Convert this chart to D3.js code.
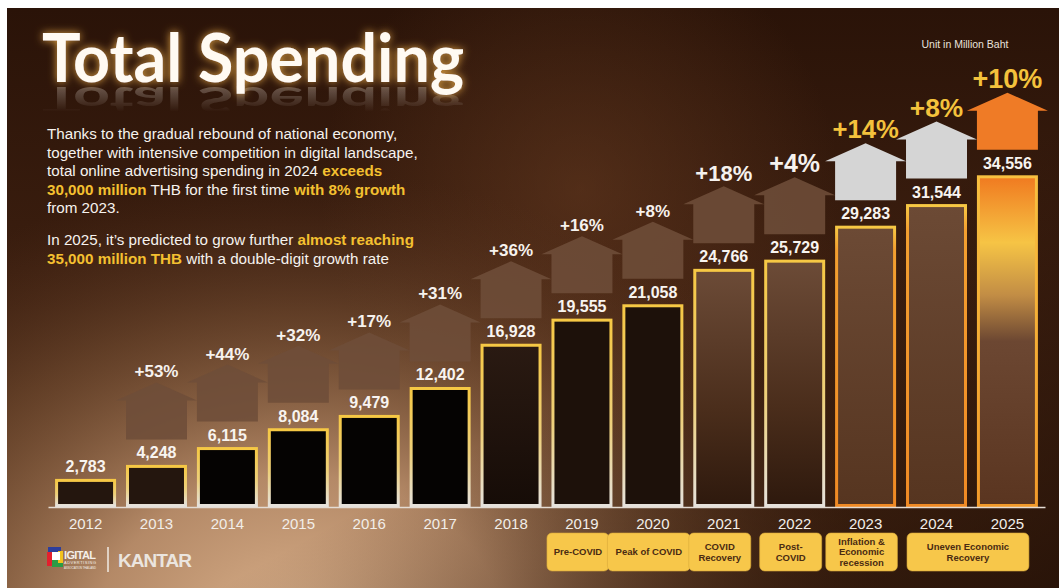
<!DOCTYPE html>
<html>
<head>
<meta charset="utf-8">
<script src="https://cdn.jsdelivr.net/npm/d3@7"></script>
<style>
  html, body { margin: 0; padding: 0; background: #fff; }
  svg { display: block; font-family: "Liberation Sans", Arial, sans-serif; }
</style>
</head>
<body>
<svg id="chart"></svg>
<script>
const WIDTH = 1059;
const HEIGHT = 588;

// data
const years = [2012, 2013, 2014, 2015, 2016, 2017, 2018, 2019, 2020, 2021, 2022, 2023, 2024, 2025];
const spending = [2783, 4248, 6115, 8084, 9479, 12402, 16928, 19555, 21058, 24766, 25729, 29283, 31544, 34556];
const growth = [null, 53, 44, 32, 17, 31, 36, 16, 8, 18, 4, 14, 8, 10];
const phaseLabels = ['Pre-COVID', 'Peak of COVID', 'COVID\nRecovery', 'Post-\nCOVID', 'Inflation &\nEconomic\nrecession', 'Uneven Economic\nRecovery'];
const phaseFrom = [2019, 2020, 2021, 2022, 2023, 2024];
const phaseTo = [2019, 2020, 2021, 2022, 2023, 2025];

// intro text, [text, highlighted?] pieces per line
const introLines = [
  [['Thanks to the gradual rebound of national economy,', false]],
  [['together with intensive competition in digital landscape,', false]],
  [['total online advertising spending in 2024 ', false], ['exceeds', true]],
  [['30,000 million', true], [' THB for the first time ', false], ['with 8% growth', true]],
  [['from 2023.', false]],
  [['In 2025, it\u2019s predicted to grow further ', false], ['almost reaching', true]],
  [['35,000 million THB', true], [' with a double-digit growth rate', false]]
];

const rows = years.map((y, i) => ({year: y, value: spending[i], growth: growth[i]}));

const svg = d3.select('#chart')
    .attr('width', WIDTH)
    .attr('height', HEIGHT);
const defs = svg.append('defs');

function linGrad(id, stops, x2 = 0, y2 = 1) {
  const g = defs.append('linearGradient').attr('id', id)
      .attr('x1', 0).attr('y1', 0).attr('x2', x2).attr('y2', y2);
  stops.forEach(([o, c, a]) => g.append('stop')
      .attr('offset', o).attr('stop-color', c).attr('stop-opacity', a == null ? 1 : a));
}

linGrad('bgBase', [[0, '#2a1308'], [0.45, '#3b1e0f'], [1, '#4b2b16']]);
const bl = defs.append('radialGradient').attr('id', 'bgLight')
    .attr('gradientUnits', 'userSpaceOnUse')
    .attr('cx', 300).attr('cy', 640).attr('r', 470)
    .attr('gradientTransform', 'translate(300 640) scale(1.25 1) translate(-300 -640)');
[[0, '#ddb48e', 1], [0.35, '#c09470', 0.9], [0.7, '#8a6040', 0.45], [1, '#5a3520', 0]]
  .forEach(([o, c, a]) => bl.append('stop').attr('offset', o).attr('stop-color', c).attr('stop-opacity', a));
const mid = defs.append('radialGradient').attr('id', 'bgMid')
    .attr('gradientUnits', 'userSpaceOnUse')
    .attr('cx', 580).attr('cy', 190).attr('r', 260);
[[0, '#6e4024', 0.5], [1, '#6e4024', 0]]
  .forEach(([o, c, a]) => mid.append('stop').attr('offset', o).attr('stop-color', c).attr('stop-opacity', a));
linGrad('bgRight', [[0, '#1e0c04', 0], [0.6, '#1e0c04', 0], [1, '#1e0c04', 0.75]], 1, 1);

linGrad('fillDark', [[0, '#2a1a12'], [1, '#160c07']]);
linGrad('fillBrown', [[0, '#6c4b37'], [0.6, '#4a2d1b'], [1, '#2e190d']]);
linGrad('fillRecent', [[0, '#6c4a35'], [1, '#563520']]);
linGrad('fillForecast', [[0, '#f07a20'], [0.2, '#f6c445'], [0.36, '#c28d45'], [0.5, '#6c4732'], [1, '#5a3520']]);
linGrad('strokePast', [[0, '#f6c844'], [0.55, '#eed07a'], [1, '#e6e2dc']]);
linGrad('strokeRecent', [[0, '#f7c844'], [0.08, '#f4a030'], [1, '#f08a24']]);
linGrad('strokeForecast', [[0, '#f8c040'], [1, '#f29a2a']]);
linGrad('reflectFade', [[0, '#fff', 0.5], [1, '#fff', 0]]);

const glow = defs.append('filter').attr('id', 'glow')
    .attr('x', -0.1).attr('y', -0.3).attr('width', 1.2).attr('height', 1.6);
glow.append('feGaussianBlur').attr('in', 'SourceAlpha').attr('stdDeviation', 4).attr('result', 'blur');
glow.append('feFlood').attr('flood-color', '#f3b24a').attr('flood-opacity', 0.9);
glow.append('feComposite').attr('in2', 'blur').attr('operator', 'in').attr('result', 'halo');
const gm = glow.append('feMerge');
gm.append('feMergeNode').attr('in', 'halo');
gm.append('feMergeNode').attr('in', 'SourceGraphic');

const mask = defs.append('mask').attr('id', 'reflectMask')
    .attr('maskUnits', 'userSpaceOnUse');
mask.append('rect').attr('x', 0).attr('y', 86).attr('width', 600).attr('height', 26)
    .attr('fill', 'url(#reflectFade)');

// background
svg.append('rect').attr('width', WIDTH).attr('height', HEIGHT).attr('fill', '#fff');
const bg = svg.append('g');
['url(#bgBase)', 'url(#bgMid)', 'url(#bgLight)', 'url(#bgRight)'].forEach((f) => {
  bg.append('rect').attr('x', 7).attr('y', 8)
      .attr('width', WIDTH - 7).attr('height', HEIGHT - 8).attr('fill', f);
});

// scales
const x = d3.scaleBand()
    .domain(years)
    .range([48, 1045])
    .paddingInner(0.14)
    .paddingOuter(0.1);
const y = d3.scaleLinear()
    .domain([0, 36000])
    .range([507, 163]);
const cx = (d) => x(d.year) + x.bandwidth() / 2;

const stage = (yr) => yr >= 2025 ? 'forecast' : yr >= 2023 ? 'recent' : 'past';

// growth arrows
const arrowFill = {past: '#6e4d39', recent: '#d5d5d5', forecast: '#ef7b26'};
const arrow = (d) => {
  const c = cx(d);
  const t = y(d.value);
  const roof = x.bandwidth() / 2 + 10;
  const shaft = x.bandwidth() / 2;
  return [
    [c, t - 84], [c + roof, t - 66], [c + shaft, t - 66], [c + shaft, t - 27],
    [c - shaft, t - 27], [c - shaft, t - 66], [c - roof, t - 66]
  ].join(' ');
};
const withGrowth = rows.filter((d) => d.growth != null);

svg.append('g').selectAll('polygon')
    .data(withGrowth)
  .join('polygon')
    .attr('points', arrow)
    .attr('fill', (d) => arrowFill[stage(d.year)])
    .attr('opacity', (d) => stage(d.year) === 'past' ? 0.88 : 1);

const pctSize = d3.scaleLinear().domain([2020, 2021, 2022, 2025]).range([17, 22, 25, 27]).clamp(true);
svg.append('g').selectAll('text')
    .data(withGrowth)
  .join('text')
    .attr('x', cx)
    .attr('y', (d) => y(d.value) - 89)
    .attr('text-anchor', 'middle')
    .attr('font-weight', 'bold')
    .attr('font-size', (d) => pctSize(d.year))
    .attr('fill', (d) => stage(d.year) === 'past' ? '#f6f2ee' : '#f4c23c')
    .text((d) => `+${d.growth}%`);

// bars
const barFill = (yr) => {
  if (yr <= 2013) return '#24160e';
  if (yr <= 2017) return '#050302';
  if (yr === 2018) return 'url(#fillDark)';
  if (yr <= 2020) return '#1d110a';
  if (yr <= 2022) return 'url(#fillBrown)';
  if (yr <= 2024) return 'url(#fillRecent)';
  return 'url(#fillForecast)';
};
const barStroke = {past: 'url(#strokePast)', recent: 'url(#strokeRecent)', forecast: 'url(#strokeForecast)'};

svg.append('g').selectAll('rect')
    .data(rows)
  .join('rect')
    .attr('x', (d) => x(d.year) + 1.5)
    .attr('y', (d) => y(d.value))
    .attr('width', x.bandwidth() - 3)
    .attr('height', (d) => y(0) - y(d.value) - 1.5)
    .attr('fill', (d) => barFill(d.year))
    .attr('stroke', (d) => barStroke[stage(d.year)])
    .attr('stroke-width', 3);

svg.append('g').selectAll('text')
    .data(rows)
  .join('text')
    .attr('x', cx)
    .attr('y', (d) => y(d.value) - 8)
    .attr('text-anchor', 'middle')
    .attr('font-weight', 'bold')
    .attr('font-size', 16)
    .attr('fill', '#f8f4f0')
    .text((d) => d3.format(',')(d.value));

// year axis
const axis = svg.append('g')
    .attr('transform', `translate(0, ${y(0)})`)
    .call(d3.axisBottom(x).tickSize(0).tickSizeOuter(0).tickPadding(11));
axis.select('.domain').attr('stroke', '#e4dcd4').attr('stroke-width', 1.5);
axis.selectAll('text')
    .attr('font-family', '"Liberation Sans", Arial, sans-serif')
    .attr('font-size', 15)
    .attr('fill', '#f2eee9');

// phase badges
const phases = phaseLabels.map((label, i) => ({label, from: phaseFrom[i], to: phaseTo[i]}));
const badge = svg.append('g').selectAll('g')
    .data(phases)
  .join('g');
badge.each(function(d) {
  const g = d3.select(this);
  const left = x(d.from);
  const right = x(d.to) + x.bandwidth();
  const center = (left + right) / 2 - 4;
  const lines = d.label.split('\n');
  const longest = d3.max(lines, (l) => l.length);
  const w = d.from === d.to ? Math.max(longest * 5.6 + 10, 62) : right - left - 10;
  g.append('rect')
      .attr('x', center - w / 2)
      .attr('y', 533)
      .attr('width', w)
      .attr('height', 38)
      .attr('rx', 5)
      .attr('fill', '#f7c74a')
      .attr('stroke', '#d9a93a')
      .attr('stroke-width', 0.6);
  const lh = 10.5;
  g.append('text')
      .attr('text-anchor', 'middle')
      .attr('font-size', 9.5)
      .attr('font-weight', 'bold')
      .attr('fill', '#4a2b12')
    .selectAll('tspan')
    .data(lines)
    .join('tspan')
      .attr('x', center)
      .attr('y', (l, i) => 552 + 3.3 + (i - (lines.length - 1) / 2) * lh)
      .text((l) => l);
});

// title with glow and a squashed, fading reflection
const titleX = 42;
const titleBase = 82;
svg.append('g')
    .attr('mask', 'url(#reflectMask)')
  .append('text')
    .attr('transform', `translate(0, ${titleBase + 5}) scale(1, -0.55) translate(0, ${-titleBase})`)
    .attr('x', titleX)
    .attr('y', titleBase)
    .attr('font-family', 'Lato, "Noto Sans", sans-serif')
    .attr('font-weight', 'bold')
    .attr('font-size', 66)
    .attr('textLength', 422)
    .attr('lengthAdjust', 'spacingAndGlyphs')
    .attr('fill', '#a89a90')
    .text('Total Spending');
svg.append('text')
    .attr('x', titleX)
    .attr('y', titleBase)
    .attr('font-family', 'Lato, "Noto Sans", sans-serif')
    .attr('font-weight', 'bold')
    .attr('font-size', 66)
    .attr('textLength', 422)
    .attr('lengthAdjust', 'spacingAndGlyphs')
    .attr('fill', '#fffaf2')
    .attr('filter', 'url(#glow)')
    .text('Total Spending');

// intro paragraph
const intro = svg.append('text')
    .attr('font-size', 15.2)
    .attr('fill', '#f6f2ee');
const lineY = [139, 157.5, 176, 194.5, 213, 245, 263.5];
introLines.forEach((parts, li) => {
  parts.forEach(([t, hi], pi) => {
    const ts = intro.append('tspan').text(t);
    if (pi === 0) ts.attr('x', 47).attr('y', lineY[li]);
    if (hi) ts.attr('fill', '#f4c030').attr('font-weight', 'bold');
  });
});

svg.append('text')
    .attr('x', 965)
    .attr('y', 48)
    .attr('text-anchor', 'middle')
    .attr('font-size', 10.5)
    .attr('fill', '#e8e2dc')
    .text('Unit in Million Baht');

// logos
const logo = svg.append('g').attr('transform', 'translate(47, 547)');
[['#2d3e9c', 1, 0, 13, 14], ['#e3202e', 0, 5, 7, 14], ['#2c9b45', 5, 13, 11, 7], ['#f2c21d', 11, 4, 5, 12], ['#fff', 5, 5, 8, 8]]
  .forEach(([c, lx, ly, w, h]) => logo.append('rect')
      .attr('x', lx).attr('y', ly).attr('width', w).attr('height', h).attr('fill', c));
logo.append('text').attr('x', 17).attr('y', 12).attr('font-size', 11).attr('font-weight', 'bold')
    .attr('fill', '#f4efe9').attr('textLength', 32).text('IGITAL');
logo.append('text').attr('x', 17).attr('y', 17).attr('font-size', 4).attr('fill', '#f4efe9')
    .attr('textLength', 32).text('ADVERTISING');
logo.append('text').attr('x', 17).attr('y', 22).attr('font-size', 2.8).attr('fill', '#f4efe9')
    .attr('textLength', 32).text('ASSOCIATION THAILAND');
svg.append('line').attr('x1', 108).attr('x2', 108).attr('y1', 547).attr('y2', 572)
    .attr('stroke', '#f0ebe5').attr('stroke-width', 1.5);
svg.append('text')
    .attr('x', 118)
    .attr('y', 567)
    .attr('font-size', 19)
    .attr('font-weight', 'bold')
    .attr('fill', '#ebe5df')
    .attr('textLength', 74)
    .text('KANTAR');
</script>
</body>
</html>
